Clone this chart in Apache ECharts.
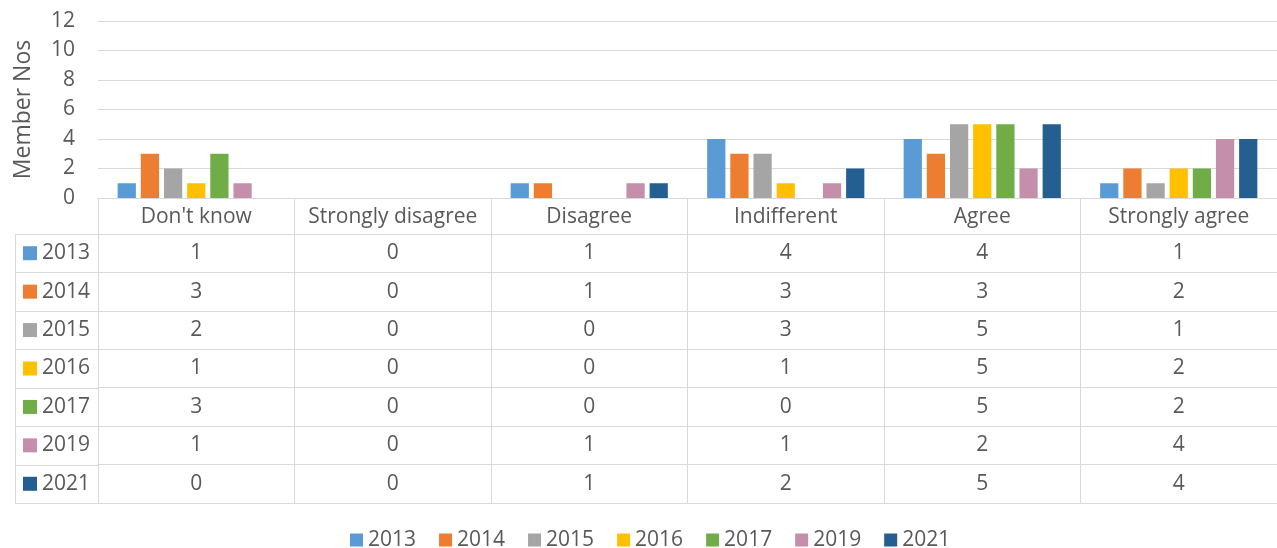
<!DOCTYPE html>
<html>
<head>
<meta charset="utf-8">
<script src="https://cdn.jsdelivr.net/npm/echarts@6/dist/echarts.min.js"></script>
<style>
  html, body { margin: 0; padding: 0; background: #fff; }
  #chart { width: 1277px; height: 548px; }
</style>
</head>
<body>
<div id="chart"></div>
<script>
var categories = ['Don\'t know', 'Strongly disagree', 'Disagree', 'Indifferent', 'Agree', 'Strongly agree'];
var years = ['2013', '2014', '2015', '2016', '2017', '2019', '2021'];
var v2013 = [1, 0, 1, 4, 4, 1];
var v2014 = [3, 0, 1, 3, 3, 2];
var v2015 = [2, 0, 0, 3, 5, 1];
var v2016 = [1, 0, 0, 1, 5, 2];
var v2017 = [3, 0, 0, 0, 5, 2];
var v2019 = [1, 0, 1, 1, 2, 4];
var v2021 = [0, 0, 1, 2, 5, 4];
var yTicks = [0, 2, 4, 6, 8, 10, 12];

var rows = [v2013, v2014, v2015, v2016, v2017, v2019, v2021];
var colors = ['#5B9BD5', '#ED7D31', '#A5A5A5', '#FFC000', '#70AD47', '#C48FAA', '#255E91'];

var FONT = 'Open Sans';
var FS = 21;
var TXT = '#595959';
var LINE = '#d9d9d9';

// table geometry (header row under the plot, then one row per year)
var axisY = 198, headH = 36, rowH = 38.43, tableLeft = 15, plotLeft = 98;
var tableBottom = axisY + headH + rowH * rows.length;

var chart = echarts.init(document.getElementById('chart'));

var xAxes = [{
    type: 'category',
    data: categories,
    axisLine: { lineStyle: { color: LINE, width: 1 } },
    axisTick: { show: true, interval: 0, length: tableBottom - axisY, lineStyle: { color: LINE } },
    axisLabel: { interval: 0, margin: headH / 2 + 1.5, verticalAlign: 'middle', color: TXT, fontSize: FS, fontFamily: FONT }
}];
rows.forEach(function(vals, r) {
    xAxes.push({
        type: 'category',
        data: categories,
        position: 'bottom',
        offset: headH + r * rowH,
        axisLine: { lineStyle: { color: LINE, width: 1 } },
        axisTick: { show: false },
        axisLabel: {
            interval: 0, margin: rowH / 2, verticalAlign: 'middle',
            color: TXT, fontSize: FS, fontFamily: FONT,
            formatter: function(v, i) { return String(vals[i]); }
        }
    });
});

var graphics = [];
for (var r = 0; r <= rows.length; r++) {
    var y = Math.round(axisY + headH + r * rowH) + 0.5;
    graphics.push({
        type: 'line',
        shape: { x1: tableLeft, y1: y, x2: r === rows.length ? 1277 : plotLeft, y2: y },
        style: { stroke: LINE, lineWidth: 1 }
    });
}
graphics.push({
    type: 'line',
    shape: { x1: tableLeft + 0.5, y1: axisY + headH, x2: tableLeft + 0.5, y2: tableBottom },
    style: { stroke: LINE, lineWidth: 1 }
});

var option = {
    animation: false,
    color: colors,
    textStyle: { fontFamily: FONT },
    grid: { left: plotLeft, right: 0, top: 21, bottom: 548 - axisY, containLabel: false },
    legend: [{
        data: years,
        top: 529,
        left: 350,
        padding: 0,
        itemWidth: 13,
        itemHeight: 13,
        itemGap: 23,
        icon: 'rect',
        textStyle: { color: TXT, fontSize: FS, fontFamily: FONT, lineHeight: 22 }
    }, {
        data: years,
        orient: 'vertical',
        left: 23,
        padding: 0,
        top: axisY + headH + rowH / 2 - 11,
        itemWidth: 14,
        itemHeight: 14,
        itemGap: rowH - 22,
        icon: 'rect',
        textStyle: { color: TXT, fontSize: FS, fontFamily: FONT, lineHeight: 22 }
    }],
    xAxis: xAxes,
    yAxis: {
        type: 'value',
        min: yTicks[0],
        max: yTicks[yTicks.length - 1],
        interval: 2,
        name: 'Member Nos',
        nameLocation: 'middle',
        nameGap: 63,
        nameTextStyle: { color: TXT, fontSize: 23, fontFamily: FONT },
        axisLine: { show: false },
        axisTick: { show: false },
        axisLabel: { color: TXT, fontSize: FS, fontFamily: FONT, margin: 23 },
        splitLine: { lineStyle: { color: LINE, width: 1 } }
    },
    graphic: graphics,
    series: rows.map(function(vals, i) {
        return {
            name: years[i],
            type: 'bar',
            xAxisIndex: 0,
            data: vals,
            barGap: '27%',
            barCategoryGap: '20%'
        };
    })
};

chart.setOption(option);
</script>
</body>
</html>
